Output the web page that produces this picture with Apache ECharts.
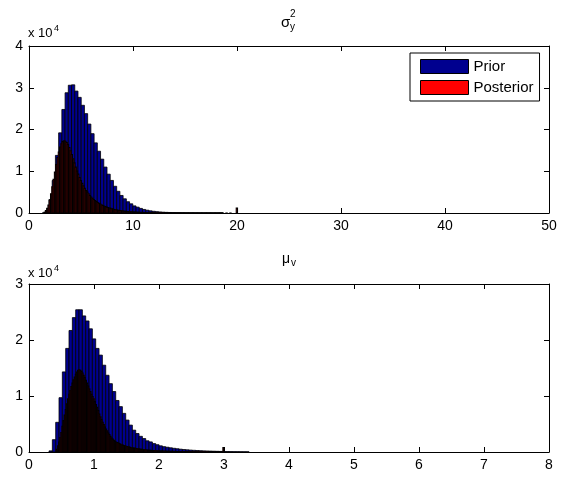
<!DOCTYPE html>
<html>
<head>
<meta charset="utf-8">
<script src="https://cdn.jsdelivr.net/npm/echarts@6/dist/echarts.min.js"></script>
<style>
  html, body { margin: 0; padding: 0; background: #fff; }
  #chart { width: 561px; height: 479px; }
</style>
</head>
<body>
<div id="chart"></div>
<script>
// Histogram counts of MCMC draws for sigma_y^2 (top) and mu_v (bottom).
// Each histogram: first bin edge, bin width, counts per bin.

// sigma_y^2 — prior draws
const sigmaPriorStart = 1.3;
const sigmaPriorWidth = 0.31;
const sigmaPriorCounts = [
  50, 600, 3200, 7800, 13800, 19200, 24800, 28800, 30600, 30700,
  29200, 27700, 25800, 23800, 21300, 19000, 16800, 14800, 12900, 11000,
  9300, 7800, 6400, 5200, 4200, 3400, 2700, 2200, 1700, 1400,
  1100, 850, 670, 520, 410, 320, 250, 190, 150, 120,
  90, 70, 55, 43, 34, 27, 21, 17, 13, 10,
  8, 7, 5, 4, 4, 3
];

// sigma_y^2 — posterior draws
const sigmaPostStart = 1.45;
const sigmaPostWidth = 0.124;
const sigmaPostCounts = [
  200, 600, 1100, 1900, 3100, 4600, 6300, 8100, 9800, 11600,
  13300, 14600, 15800, 16600, 17100, 17300, 17200, 16900, 16400, 15700,
  14900, 14000, 13000, 12000, 11000, 10100, 9300, 8500, 7800, 7100,
  6500, 5900, 5400, 5000, 4600, 4200, 3850, 3550, 3250, 3000,
  2750, 2520, 2320, 2140, 1970, 1810, 1670, 1530, 1410, 1300,
  1190, 1100, 1010, 930, 850, 780, 720, 660, 610, 560,
  510, 470, 430, 400, 360, 330, 310, 280, 260, 240,
  220, 200, 180, 170, 150, 140, 130, 120, 110, 100,
  90, 83, 76, 70, 64, 58, 53, 49, 45, 41,
  37, 34, 31, 28, 26, 24, 22, 20, 18, 17,
  15, 14, 13, 12, 11, 10, 9, 9, 8, 7,
  7, 6, 6, 5, 5, 5, 4, 4, 4, 3,
  3, 3, 3, 2, 2, 2, 2, 2, 2, 1,
  1, 1, 1, 1, 1, 1, 1, 1, 1, 0,
  0, 1, 0, 0, 1, 0, 0, 0, 0, 1200
];

// mu_v — prior draws
const muPriorStart = 0.308;
const muPriorWidth = 0.0513;
const muPriorCounts = [
  200, 2200, 5300, 9700, 14300, 18500, 21700, 24000, 25400, 25400,
  24300, 23400, 22000, 20200, 18500, 17300, 15500, 13700, 12200, 10800,
  9200, 8100, 6900, 5700, 4800, 3900, 3300, 2800, 2400, 2000,
  1800, 1500, 1300, 1100, 950, 850, 750, 660, 580, 500,
  440, 390, 340, 300, 260, 230, 200, 180, 160, 140,
  120, 105, 92, 80, 70, 61, 53, 46, 40, 35
];

// mu_v — posterior draws
const muPostStart = 0.42;
const muPostWidth = 0.0172;
const muPostCounts = [
  500, 1100, 1800, 2600, 3500, 4600, 5600, 6600, 7600, 8600,
  9500, 10300, 11000, 11700, 12300, 12900, 13400, 13900, 14300, 14600,
  14700, 14600, 14400, 14100, 13700, 13300, 12800, 12300, 11800, 11300,
  10800, 10300, 9900, 9500, 9000, 8500, 8000, 7400, 6800, 6300,
  5800, 5300, 4900, 4500, 4100, 3800, 3400, 3100, 2800, 2500,
  2300, 2100, 1900, 1800, 1700, 1600, 1500, 1400, 1300, 1230,
  1160, 1100, 1040, 980, 920, 870, 820, 770, 730, 690,
  650, 620, 590, 560, 530, 500, 470, 440, 410, 380,
  350, 335, 320, 305, 290, 275, 262, 250, 238, 226,
  215, 205, 195, 186, 177, 168, 160, 152, 145, 138,
  131, 125, 119, 113, 108, 103, 98, 93, 89, 85,
  81, 77, 73, 70, 66, 63, 60, 57, 54, 52,
  50, 47, 45, 43, 41, 39, 37, 35, 33, 32,
  30, 29, 27, 26, 25, 23, 22, 21, 20, 19,
  18, 17, 16, 15, 14, 13, 12, 11, 10, 800
];

// Axis ranges and tick steps
const sigmaXMax = 50, sigmaXStep = 10, sigmaYMax = 40000, sigmaYStep = 10000;
const muXMax = 8, muXStep = 1, muYMax = 30000, muYStep = 10000;

const FONT = 'Liberation Sans, Arial, Helvetica, sans-serif';
const PRIOR_COLOR = '#00008f';
const POST_COLOR = '#ff0000';

function toBins(start, width, counts) {
  const out = [];
  counts.forEach((c, i) => {
    if (c > 0) out.push([start + i * width, start + (i + 1) * width, c]);
  });
  return out;
}

function barRenderer(fill, lw) {
  return function (params, api) {
    const p0 = api.coord([api.value(0), api.value(2)]);
    const p1 = api.coord([api.value(1), 0]);
    return {
      type: 'rect',
      shape: { x: p0[0], y: p0[1], width: p1[0] - p0[0], height: p1[1] - p0[1] },
      style: { fill: fill, stroke: '#000', lineWidth: lw }
    };
  };
}

function histSeries(name, bins, fill, lw, axisIdx) {
  return {
    type: 'custom',
    name: name,
    xAxisIndex: axisIdx,
    yAxisIndex: axisIdx,
    clip: true,
    silent: true,
    animation: false,
    itemStyle: { color: fill },
    encode: { x: [0, 1], y: 2 },
    renderItem: barRenderer(fill, lw),
    data: bins
  };
}

function xAxes(gridIndex, max, step) {
  const base = {
    type: 'value', gridIndex: gridIndex, min: 0, max: max, interval: step,
    splitLine: { show: false },
    axisLine: { show: true, onZero: false, lineStyle: { color: '#000', width: 1 } },
    axisTick: { show: true, inside: true, length: 5, lineStyle: { color: '#000' } }
  };
  return [
    Object.assign({}, base, {
      position: 'bottom',
      axisLabel: { show: true, color: '#000', fontSize: 14, fontFamily: FONT, margin: 6 }
    }),
    Object.assign({}, base, { position: 'top', axisLabel: { show: false } })
  ];
}

function yAxes(gridIndex, max, step) {
  const base = {
    type: 'value', gridIndex: gridIndex, min: 0, max: max, interval: step,
    splitLine: { show: false },
    axisLine: { show: true, onZero: false, lineStyle: { color: '#000', width: 1 } },
    axisTick: { show: true, inside: true, length: 5, lineStyle: { color: '#000' } }
  };
  return [
    Object.assign({}, base, {
      position: 'left',
      axisLabel: {
        show: true, color: '#000', fontSize: 14, fontFamily: FONT, margin: 6,
        formatter: v => String(v / 10000)
      }
    }),
    Object.assign({}, base, { position: 'right', axisLabel: { show: false } })
  ];
}

const chart = echarts.init(document.getElementById('chart'), null, { renderer: 'canvas' });

const txt = (text, x, y, size) => ({
  type: 'text', left: x, top: y, silent: true,
  style: { text: text, fontSize: size, fontFamily: FONT, fill: '#000' }
});

chart.setOption({
  backgroundColor: '#fff',
  animation: false,
  grid: [
    { left: 29, right: 12, top: 46, height: 167 },
    { left: 29, right: 12, top: 284, height: 168 }
  ],
  xAxis: [].concat(xAxes(0, sigmaXMax, sigmaXStep), xAxes(1, muXMax, muXStep)),
  yAxis: [].concat(yAxes(0, sigmaYMax, sigmaYStep), yAxes(1, muYMax, muYStep)),
  legend: {
    data: ['Prior', 'Posterior'],
    orient: 'vertical',
    left: 410, top: 53,
    padding: [6, 6, 6, 10],
    itemGap: 6,
    itemWidth: 48, itemHeight: 14,
    icon: 'rect',
    selectedMode: false,
    backgroundColor: '#fff',
    borderColor: '#000', borderWidth: 1,
    itemStyle: { borderColor: '#000', borderWidth: 1 },
    textStyle: { color: '#000', fontSize: 15, fontFamily: FONT, lineHeight: 14 }
  },
  graphic: [
    // top panel title: sigma_y^2
    txt('σ', 281, 15, 15),
    txt('2', 290, 9, 10),
    txt('y', 290, 22, 10),
    // top panel exponent label
    txt('x 10', 28, 27, 13),
    txt('4', 54, 24, 9),
    // bottom panel title: mu_v
    txt('μ', 282, 252, 14),
    txt('v', 291, 258, 10),
    // bottom panel exponent label
    txt('x 10', 28, 267, 13),
    txt('4', 54, 264, 9)
  ],
  series: [
    histSeries('Prior', toBins(sigmaPriorStart, sigmaPriorWidth, sigmaPriorCounts), PRIOR_COLOR, 0.8, 0),
    histSeries('Posterior', toBins(sigmaPostStart, sigmaPostWidth, sigmaPostCounts), POST_COLOR, 1.1, 0),
    histSeries('Prior', toBins(muPriorStart, muPriorWidth, muPriorCounts), PRIOR_COLOR, 0.8, 2),
    histSeries('Posterior', toBins(muPostStart, muPostWidth, muPostCounts), POST_COLOR, 1.05, 2)
  ]
});
</script>
</body>
</html>
